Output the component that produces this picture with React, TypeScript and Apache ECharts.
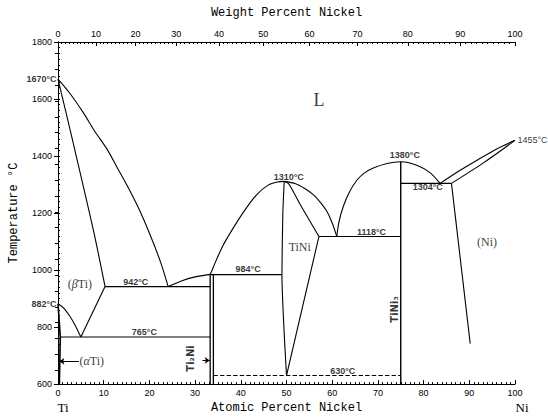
import React, { useEffect, useRef } from "react";
import * as echarts from "echarts";

// ---------- data (atomic % Ni, temperature °C) ----------
const liquidusTi = [[0, 1670], [2.5, 1622], [5.5, 1553], [8, 1488], [10.7, 1425], [13, 1358], [15.5, 1285], [17.9, 1208], [20.5, 1110], [22.5, 1025], [24.1, 942]];
const betaSolidus = [[0, 1670], [3, 1468], [6, 1262], [8.1, 1114], [10.3, 942]];
const alphaBetaTransus = [[0, 882], [1.3, 866], [2.6, 838], [3.8, 805], [5, 765]];
const betaSolvus = [[10.3, 942], [5, 765]];
const alphaSolvus = [[0, 882], [0.5, 765], [0.3, 600]];
const eutectic942 = [[10.3, 942], [33.3, 942]];
const eutectoid765 = [[0.5, 765], [33.3, 765]];
const ti2NiLeft = [[33.3, 600], [33.3, 984]];
const ti2NiRight = [[34, 600], [34, 984]];
const liquidusTi2Ni = [[24.1, 942], [27, 962], [30, 976], [33.3, 985]];
const peritectic984 = [[33.3, 984], [49, 984]];
const liquidusTiNiLeft = [[33.3, 984], [34, 1011], [36, 1083], [38.4, 1149], [41, 1213], [43.5, 1265], [46, 1298], [48, 1309], [49.5, 1311]];
const tiNiLeft = [[49.5, 1311], [49.2, 1200], [49, 984], [50, 630]];
const tiNiRight = [[49.5, 1311], [50.4, 1304], [51.5, 1275], [53, 1230], [55, 1175], [57.1, 1118]];
const tiNiRightLow = [[57.1, 1118], [50, 630]];
const liquidusTiNiRight = [[49.5, 1311], [52, 1303], [54, 1286], [55.9, 1264], [57.5, 1236], [58.8, 1207], [60, 1165], [61, 1118]];
const eutectic1118 = [[57.1, 1118], [75, 1118]];
const liquidusTiNi3 = [[61, 1118], [61.5, 1170], [62.4, 1222], [63.8, 1275], [65.4, 1315], [67, 1340], [69, 1358], [72, 1374], [75, 1380], [78.5, 1368], [81.4, 1342], [83.6, 1304]];
const tiNi3Line = [[75, 600], [75, 1380]];
const eutectic1304 = [[75, 1304], [86.1, 1304]];
const liquidusNi = [[83.6, 1304], [88, 1350], [92.3, 1391], [96, 1425], [100, 1455]];
const solidusNi = [[86.1, 1304], [93, 1375], [100, 1455]];
const solvusNi = [[86.1, 1304], [90.2, 742]];
const eutectoid630 = [[34, 630], [75, 630]];

// tick labels
const weightTickLabels = [0, 10, 20, 30, 40, 50, 60, 70, 80, 90, 100];
const weightMinorTicks = Array.from({ length: 101 }, (_, i) => i);
const fahrenheitTicks = [1200, 1300, 1400, 1500, 1600, 1700, 1800, 1900, 2000, 2100, 2200, 2300, 2400, 2500, 2600, 2700, 2800, 2900, 3000, 3100, 3200];

// annotations: [text, at%, °C]
const tempLabels: [string, number, number][] = [
  ["1310°C", 50.5, 1328],
  ["1380°C", 75.9, 1402],
  ["1304°C", 80.9, 1290],
  ["1118°C", 68.6, 1135],
  ["984°C", 41.6, 1003],
  ["942°C", 17.0, 959],
  ["765°C", 18.9, 781],
  ["630°C", 62.3, 645],
];
const edgeLabels: [string, number, number][] = [
  ["1670°C", 0, 1670],
  ["882°C", 0, 882],
];
const rightEdgeLabels: [string, number, number][] = [["1455°C", 100, 1455]];
const phaseLabels: [string, number, number][] = [
  ["TiNi", 52.9, 1080],
  ["(Ni)", 93.9, 1097],
  ["({i|β}Ti)", 4.8, 952],
];
const liquidLabel: [string, number, number] = ["L", 57.1, 1598];
const alphaLabel: [string, number, number] = ["({i|α}Ti)", 4.6, 680];
const compoundLabels: [string, number, number][] = [
  ["Ti₂Ni", 28.9, 690],
  ["TiNi₃", 73.7, 862],
];
const arrows = [
  [[4.6, 680], [0.3, 680]],
  [[31.6, 683], [33.2, 683]],
];

// ---------- conversions ----------
const M_TI = 47.867;
const M_NI = 58.693;
const wtToAt = (w: number) => {
  const a = w / M_NI;
  const b = (100 - w) / M_TI;
  return (100 * a) / (a + b);
};
const atToWt = (x: number) => {
  const a = x * M_NI;
  const b = (100 - x) * M_TI;
  return (100 * a) / (a + b);
};
const fToC = (f: number) => ((f - 32) * 5) / 9;

const BLACK = "#000";
const SANS = "Liberation Sans, Arial, sans-serif";
const MONO = "Liberation Mono, DejaVu Sans Mono, monospace";
const SERIF = "Liberation Serif, DejaVu Serif, serif";

function line(data: number[][], smooth: number | boolean = false, width = 1.1, type = "solid") {
  return {
    type: "line",
    data,
    smooth,
    showSymbol: false,
    symbol: "none",
    silent: true,
    lineStyle: { color: BLACK, width, type },
    xAxisIndex: 0,
    yAxisIndex: 0,
    z: 3,
  };
}

function textSeries(items: any[]) {
  return {
    type: "scatter",
    xAxisIndex: 0,
    yAxisIndex: 0,
    symbolSize: 1,
    silent: true,
    itemStyle: { color: "transparent" },
    data: items,
    z: 5,
  };
}

export default function App() {
  const ref = useRef<HTMLDivElement>(null);
  useEffect(() => {
    if (!ref.current) return;
    const chart = echarts.init(ref.current, null, { renderer: "svg" });
    const majorAt = weightTickLabels.map(wtToAt);
    const minorAt = weightMinorTicks.map(wtToAt);
    const fTicks = fahrenheitTicks.map(fToC);

    const degStyle = { color: BLACK, fontFamily: SANS, fontSize: 9, fontWeight: "bold" };
    const italic = { fontStyle: "italic", fontFamily: SERIF, fontSize: 12, color: BLACK };

    const option: any = {
      animation: false,
      backgroundColor: "#fff",
      grid: { left: 58, right: 33, top: 42, bottom: 30 },
      xAxis: [
        {
          type: "value",
          position: "bottom",
          min: 0,
          max: 100,
          interval: 10,
          name: "Atomic Percent Nickel",
          nameLocation: "middle",
          nameGap: 15,
          nameTextStyle: { fontFamily: MONO, fontSize: 12, color: BLACK },
          axisLine: { lineStyle: { color: BLACK, width: 1 } },
          axisTick: { inside: true, length: 4, lineStyle: { color: BLACK } },
          minorTick: { show: true, splitNumber: 10, length: 2, lineStyle: { color: BLACK } },
          axisLabel: { fontSize: 9, color: BLACK, margin: 4, fontFamily: SANS, formatter: (v: number) => String(v) },
          splitLine: { show: false },
        },
        {
          type: "value",
          position: "top",
          min: 0,
          max: 100,
          name: "Weight Percent Nickel",
          nameLocation: "middle",
          nameGap: 23,
          nameTextStyle: { fontFamily: MONO, fontSize: 12, color: BLACK },
          axisLine: { lineStyle: { color: BLACK, width: 1 } },
          axisTick: { customValues: majorAt, inside: true, length: 4, lineStyle: { color: BLACK } },
          axisLabel: {
            customValues: majorAt,
            fontSize: 9,
            color: BLACK,
            margin: 4,
            fontFamily: SANS,
            formatter: (v: number) => String(Math.round(atToWt(v))),
          },
          splitLine: { show: false },
        },
        {
          type: "value",
          position: "top",
          min: 0,
          max: 100,
          axisLine: { show: false },
          axisTick: { customValues: minorAt, inside: true, length: 2, lineStyle: { color: BLACK } },
          axisLabel: { show: false },
          splitLine: { show: false },
        },
      ],
      yAxis: [
        {
          type: "value",
          position: "left",
          min: 600,
          max: 1800,
          interval: 200,
          name: "Temperature °C",
          nameLocation: "middle",
          nameGap: 38,
          nameTextStyle: { fontFamily: MONO, fontSize: 12, color: BLACK },
          axisLine: { show: true, lineStyle: { color: BLACK, width: 1 } },
          axisTick: { show: true, inside: false, length: 4, lineStyle: { color: BLACK } },
          axisLabel: { fontSize: 9, color: BLACK, margin: 6, fontFamily: SANS, formatter: (v: number) => String(v) },
          splitLine: { show: false },
        },
        {
          type: "value",
          position: "left",
          min: 600,
          max: 1800,
          interval: 20,
          axisLine: { show: false },
          axisTick: { show: true, inside: true, length: 2, lineStyle: { color: BLACK } },
          axisLabel: { show: false },
          splitLine: { show: false },
        },
        {
          type: "value",
          position: "right",
          min: 600,
          max: 1800,
          axisLine: { show: true, lineStyle: { color: BLACK, width: 1 } },
          axisTick: { show: true, inside: true, length: 3, customValues: fTicks, lineStyle: { color: BLACK } },
          axisLabel: { show: false },
          splitLine: { show: false },
        },
      ],
      series: [
        line(liquidusTi, 0.3),
        line(betaSolidus, 0.3),
        line(alphaBetaTransus, 0.3),
        line(betaSolvus),
        line(alphaSolvus, false, 1.6),
        line(eutectic942),
        line(eutectoid765),
        line(ti2NiLeft, false, 1.3),
        line(ti2NiRight, false, 1.3),
        line(liquidusTi2Ni, 0.3),
        line(peritectic984),
        line(liquidusTiNiLeft, 0.3),
        line(tiNiLeft, 0.2),
        line(tiNiRight, 0.3),
        line(tiNiRightLow),
        line(liquidusTiNiRight, 0.3),
        line(eutectic1118),
        line(liquidusTiNi3, 0.3),
        line(tiNi3Line, false, 1.4),
        line(eutectic1304),
        line(liquidusNi, 0.3),
        line(solidusNi, 0.3),
        line(solvusNi),
        line(eutectoid630, false, 1.1, "dashed"),
        {
          type: "lines",
          coordinateSystem: "cartesian2d",
          xAxisIndex: 0,
          yAxisIndex: 0,
          silent: true,
          symbol: ["none", "arrow"],
          symbolSize: 5,
          lineStyle: { color: BLACK, width: 1, opacity: 1 },
          data: arrows.map((c) => ({ coords: c })),
          z: 4,
        },
        textSeries(
          tempLabels.map(([t, x, y]) => ({
            value: [x, y],
            label: { show: true, position: "inside", formatter: t, ...degStyle },
          }))
        ),
        textSeries(
          edgeLabels.map(([t, x, y]) => ({
            value: [x, y],
            label: { show: true, position: "left", distance: 1, formatter: t, ...degStyle },
          }))
        ),
        textSeries(
          rightEdgeLabels.map(([t, x, y]) => ({
            value: [x, y],
            label: { show: true, position: "right", distance: 2, formatter: t, ...degStyle, fontWeight: "normal" },
          }))
        ),
        textSeries(
          phaseLabels.map(([t, x, y]) => ({
            value: [x, y],
            label: {
              show: true,
              position: "inside",
              formatter: t,
              color: BLACK,
              fontFamily: SERIF,
              fontSize: 12,
              rich: { i: italic },
            },
          }))
        ),
        textSeries([
          {
            value: [liquidLabel[1], liquidLabel[2]],
            label: { show: true, position: "inside", formatter: liquidLabel[0], color: BLACK, fontFamily: SERIF, fontSize: 18 },
          },
          {
            value: [alphaLabel[1], alphaLabel[2]],
            label: {
              show: true,
              position: "right",
              distance: 0,
              formatter: alphaLabel[0],
              color: BLACK,
              fontFamily: SERIF,
              fontSize: 12,
              rich: { i: italic },
            },
          },
        ]),
        textSeries(
          compoundLabels.map(([t, x, y]) => ({
            value: [x, y],
            label: {
              show: true,
              position: "inside",
              rotate: 90,
              formatter: t,
              color: BLACK,
              fontFamily: "DejaVu Sans, sans-serif",
              fontSize: 10,
              fontWeight: "bold",
            },
          }))
        ),
      ],
      graphic: [],
    };
    chart.setOption(option);

    // end labels "Ti" and "Ni" under the axis ends
    const p0 = chart.convertToPixel({ xAxisIndex: 0, yAxisIndex: 0 }, [0, 600]);
    const p1 = chart.convertToPixel({ xAxisIndex: 0, yAxisIndex: 0 }, [100, 600]);
    chart.setOption({
      graphic: [
        {
          type: "text",
          x: p0[0] + 5,
          y: p0[1] + 23,
          style: { text: "Ti", fill: BLACK, font: `13px ${SERIF}`, textAlign: "center", textVerticalAlign: "middle" },
        },
        {
          type: "text",
          x: p1[0] + 7,
          y: p1[1] + 23,
          style: { text: "Ni", fill: BLACK, font: `13px ${SERIF}`, textAlign: "center", textVerticalAlign: "middle" },
        },
      ],
    });
    return () => chart.dispose();
  }, []);
  return (
    <div
      ref={ref}
      style={{ position: "fixed", left: 0, top: 0, width: 548, height: 419, background: "#fff" }}
    />
  );
}
